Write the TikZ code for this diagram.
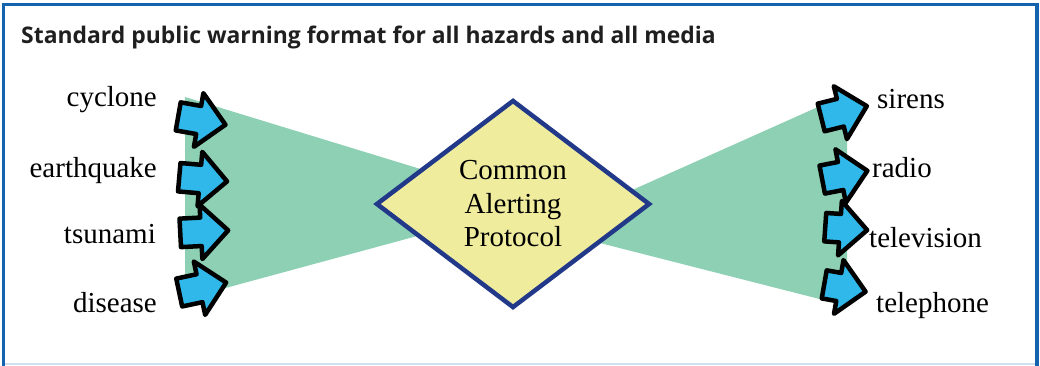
\documentclass[tikz,border=0pt]{standalone}
\usepackage{fontspec}
\setmainfont{Liberation Serif}
\newfontfamily\headfont{Open Sans}
\usetikzlibrary{shapes.geometric,shapes.arrows}
\definecolor{frameblue}{HTML}{1463AE}
\definecolor{funnelgreen}{HTML}{8DD0B3}
\definecolor{capyellow}{HTML}{F0EC9E}
\definecolor{capnavy}{HTML}{22398A}
\definecolor{arrowcyan}{HTML}{30B8EA}

\begin{document}
\begin{tikzpicture}[x=1pt, y=-1pt, every node/.style={font=\fontsize{29}{33.5}\selectfont},
  lbl/.style={inner sep=0pt},
  blockarr/.style={single arrow, draw=black, fill=arrowcyan, line width=4.5pt, line join=round,
    inner sep=0pt, text height=12pt, text depth=12pt, minimum height=48pt,
    single arrow head extend=13pt, anchor=tail},
  funnel/.style={fill=funnelgreen}]
\useasboundingbox (0,0) rectangle (1040,365);
\draw[frameblue!20, line width=1.5pt] (4,364) -- (1036,364);
\draw[frameblue, line width=3.5pt] (3.5,366) -- (3.5,4.5) -- (1037,4.5) -- (1037,366);
\node[anchor=base west, inner sep=0pt, text=black!88,
  font=\headfont\bfseries\fontsize{22.9}{27}\selectfont] (title) at (21,43)
  {Standard public warning format for all hazards and all media};
\fill[funnel] (185,97) -- (185,299) -- (535,204) -- cycle;
\fill[funnel] (847,94) -- (847,306) -- (545,229) -- cycle;
\node[diamond, draw=capnavy, fill=capyellow, line width=4.5pt, inner sep=0pt,
  minimum width=274pt, minimum height=208pt, align=center] (cap) at (513,204)
  {Common\\Alerting\\Protocol};
\node[lbl, anchor=base east] (cyc) at (157,106) {cyclone};
\node[lbl, anchor=base east] (quake) at (157,177) {earthquake};
\node[lbl, anchor=base east] (tsu) at (156,243) {tsunami};
\node[lbl, anchor=base east] (dis) at (157,312) {disease};
\node[blockarr, rotate=-10] (cycarr) at (176,116) {};
\node[blockarr, rotate=-5] (quakearr) at (177,177) {};
\node[blockarr, rotate=3] (tsuarr) at (178,233) {};
\node[blockarr, rotate=12] (disarr) at (177,293) {};
\node[lbl, anchor=base west] (sir) at (877,108) {sirens};
\node[lbl, anchor=base west] (rad) at (872,177) {radio};
\node[lbl, anchor=base west] (tv) at (869,247) {television};
\node[lbl, anchor=base west] (tel) at (876,312) {telephone};
\node[blockarr, minimum height=47pt, rotate=14] (sirarr) at (819,118) {};
\node[blockarr, minimum height=46pt, rotate=11] (radarr) at (820,180) {};
\node[blockarr, minimum height=42pt, rotate=-4] (tvarr) at (823,227) {};
\node[blockarr, minimum height=42pt, rotate=-10] (telarr) at (822,284) {};
\end{tikzpicture}
\end{document}
